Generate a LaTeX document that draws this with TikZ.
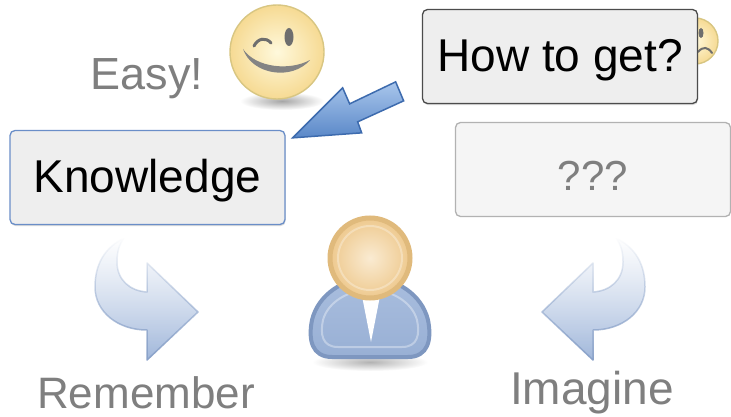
\documentclass[tikz,border=0pt]{standalone}
\usepackage{fontspec}
\setmainfont{Liberation Sans}
\usetikzlibrary{shadows,fadings}

\definecolor{boxfill}{HTML}{EEEEEE}
\definecolor{labelgray}{HTML}{7F7F7F}
\definecolor{knowedge}{HTML}{6A8EC8}
\definecolor{arrowface}{HTML}{9FB6DA}
\definecolor{arrowedge}{HTML}{8AA2C9}
\definecolor{bluelight}{HTML}{A9C6EC}
\definecolor{bluedark}{HTML}{5A88C8}
\definecolor{blueedge}{HTML}{3D6BAE}
\definecolor{bodyedge}{HTML}{7E97C0}
\definecolor{skinlight}{HTML}{FAEBD2}
\definecolor{skindark}{HTML}{EEC98E}
\definecolor{skinedge}{HTML}{E0BA7C}
\definecolor{facelight}{HTML}{FFF9DC}
\definecolor{facedark}{HTML}{F6DA93}
\definecolor{faceedge}{HTML}{D8C682}
\definecolor{facemark}{HTML}{6E6E6E}

\tikzfading[name=fade top, top color=transparent!100, middle color=transparent!5, bottom color=transparent!0]

\begin{document}
\begin{tikzpicture}[
    x = 1pt, y = -1pt,
    every node/.style = {inner sep = 0pt},
    textbox/.style = {draw, rounded corners = 5pt, line width = 1.3pt,
                      minimum width = 275pt, minimum height = 94pt,
                      text height = 33pt, text depth = 2pt,
                      font = \fontsize{46}{50}\selectfont},
    soft shadow/.style = {drop shadow = {shadow xshift = 0.6pt,
                          shadow yshift = -1.6pt, opacity = 0.28}},
    label text/.style = {text = labelgray, anchor = base},
    face/.style = {circle, draw = faceedge, line width = 1.4pt,
                   inner color = facelight, outer color = facedark},
    bend arrow/.style = {top color = arrowface!70, bottom color = arrowface,
                         draw = arrowedge, line width = 1.5pt,
                         line join = round, path fading = fade top},
    big arrow/.style = {top color = bluelight, bottom color = bluedark,
                        draw = blueedge, line width = 1.5pt, line join = miter},
  ]
  \fill [white] (0,0) rectangle (731,417);
  \useasboundingbox (0,0) rectangle (731,417);

  \shade [inner color = black!35, outer color = white] (282,101) ellipse [x radius = 42, y radius = 9];
  \node [face, minimum size = 94pt] (wink face) at (277,52) {};
  \fill [facemark] (289,37) ellipse [x radius = 4.5, y radius = 9];
  \draw [facemark, line width = 3pt, line cap = round]
        (254,46) .. controls (258,38) and (266,37) .. (271,43);
  \fill [facemark!85] (243,49) .. controls (252,75) and (292,81) .. (310,60)
        .. controls (290,71) and (256,68) .. cycle;

  \node [face, minimum size = 46pt] (sad face) at (695,41) {};
  \fill [facemark] (701,33) ellipse [x radius = 2.5, y radius = 5];
  \draw [facemark, line width = 2pt, line cap = round]
        (698,52) .. controls (703,46) and (708,47) .. (712,53);

  \node [label text, font = \fontsize{45}{50}\selectfont] (easy label) at (147,90) {Easy!};

  \node [textbox, draw = knowedge, fill = boxfill, soft shadow] (knowledge box) at (147.5,177.5) {Knowledge};
  \node [textbox, draw = black!70, fill = boxfill, soft shadow] (how box) at (560,56.5) {How to get?};
  \node [textbox, draw = black!30, fill = black!4, text = labelgray,
         text height = 43pt, font = \fontsize{42}{50}\selectfont] (unknown box) at (593,169.5) {???};

  \coordinate (arrow tip) at ([shift = {(7,8)}]knowledge box.north east);
  \draw [big arrow] (arrow tip) -- ++(50,-50) -- ++(7,16) -- ++(46,-22)
        -- ++(8,19) -- ++(-46,21) -- ++(4,11) -- cycle;

  \foreach \flip in {1,-1} {
    \begin{scope}[xshift = {370*(1-\flip)}, xscale = \flip]
      \path [bend arrow] (198,312) -- (147,263) -- (147,292)
            .. controls (130,291) and (117,280) .. (117,262)
            .. controls (117,252) and (119,245) .. (124,238)
            .. controls (104,248) and (95,265) .. (95,287)
            .. controls (95,312) and (118,330) .. (147,330)
            -- (147,360) -- cycle;
    \end{scope}
  }

  \shade [inner color = black!30, outer color = white] (370,362) ellipse [x radius = 58, y radius = 9];
  \path [top color = arrowface!90, bottom color = arrowface!80!bodyedge, draw = bodyedge, line width = 4pt]
        (332,357) .. controls (312,357) and (308,340) .. (312,320)
        .. controls (318,295) and (343,278) .. (370,278)
        .. controls (397,278) and (422,295) .. (428,320)
        .. controls (432,340) and (428,357) .. (408,357) -- cycle;
  \draw [white, opacity = 0.35, line width = 2pt]
        (338,347) .. controls (322,347) and (320,334) .. (323,320)
        .. controls (328,302) and (348,290) .. (370,290)
        .. controls (392,290) and (412,302) .. (417,320)
        .. controls (420,334) and (418,347) .. (402,347) -- cycle;
  \fill [white] (362,296) -- (371,342) -- (380,296) -- cycle;
  \node [circle, minimum size = 80pt, draw = skinedge, line width = 5pt,
         inner color = skinlight, outer color = skindark] (person head) at (370,258) {};
  \draw [white, opacity = 0.3, line width = 2pt] (person head.center) circle [radius = 32];

  \node [label text, font = \fontsize{44}{50}\selectfont] (remember label) at (146,408) {Remember};
  \node [label text, font = \fontsize{46}{50}\selectfont] (imagine label) at (592,404) {Imagine};
\end{tikzpicture}
\end{document}
